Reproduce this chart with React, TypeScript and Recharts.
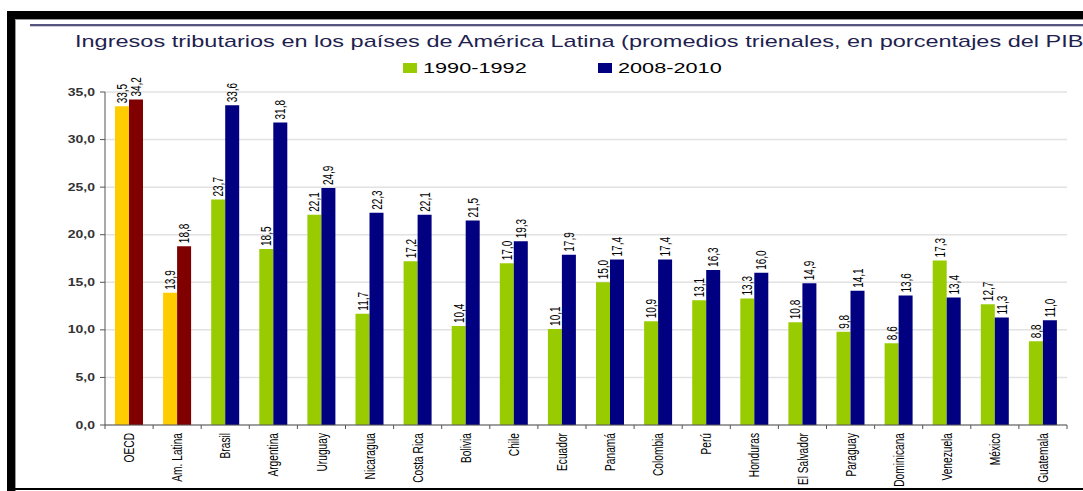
import React from 'react';
import { BarChart, Bar, XAxis, YAxis, CartesianGrid, Cell, LabelList } from 'recharts';

const categories = ['OECD', 'Am. Latina', 'Brasil', 'Argentina', 'Uruguay', 'Nicaragua', 'Costa Rica', 'Bolivia', 'Chile', 'Ecuador', 'Panamá', 'Colombia', 'Perú', 'Honduras', 'El Salvador', 'Paraguay', 'Dominicana', 'Venezuela', 'México', 'Guatemala'];
const values1990 = [33.5, 13.9, 23.7, 18.5, 22.1, 11.7, 17.2, 10.4, 17.0, 10.1, 15.0, 10.9, 13.1, 13.3, 10.8, 9.8, 8.6, 17.3, 12.7, 8.8];
const values2008 = [34.2, 18.8, 33.6, 31.8, 24.9, 22.3, 22.1, 21.5, 19.3, 17.9, 17.4, 17.4, 16.3, 16.0, 14.9, 14.1, 13.6, 13.4, 11.3, 11.0];
const yTicks = [0, 5, 10, 15, 20, 25, 30, 35];
const seriesNames = ['1990-1992', '2008-2010'];
const highlighted = ['OECD', 'Am. Latina'];
const title = 'Ingresos tributarios en los países de América Latina (promedios trienales, en porcentajes del PIB';

const GREEN = '#99CC00';
const NAVY = '#000080';
const YELLOW = '#FFCC00';
const DARKRED = '#800000';
const FONT = '"Liberation Sans", Arial, Helvetica, sans-serif';
const S = 1.4; // horizontal stretch of the reference picture

const W = 1083;
const H = 491;
const PLOT_LEFT = 105;
const PLOT_RIGHT = 1067;
const PLOT_TOP = 92;
const PLOT_BOTTOM = 425;
const X_AXIS_H = 60;

const data = categories.map((c, i) => ({ name: c, a: values1990[i], b: values2008[i] }));

const fmt = (v: any) => Number(v).toFixed(1).replace('.', ',');

const XTick = (props: any) => {
  const { x, y, payload } = props;
  const idx = categories.indexOf(payload.value);
  const bw = (PLOT_RIGHT - PLOT_LEFT) / categories.length;
  const fs = 10.2;
  return (
    <g>
      <line x1={x - bw / 2} x2={x - bw / 2} y1={y} y2={y + 4} stroke="#555" strokeWidth={1} />
      {idx === categories.length - 1 && (
        <line x1={x + bw / 2} x2={x + bw / 2} y1={y} y2={y + 4} stroke="#555" strokeWidth={1} />
      )}
      <text
        transform={`translate(${x + 0.36 * fs * S},${y + 8}) scale(${S},1) rotate(-90)`}
        textAnchor="end"
        fontSize={fs}
        fontFamily={FONT}
        fill="#000"
      >
        {payload.value}
      </text>
    </g>
  );
};

const YTick = (props: any) => {
  const { x, y, payload } = props;
  return (
    <text
      transform={`translate(${x},${y}) scale(${S},1)`}
      textAnchor="end"
      dy="0.36em"
      fontSize={10}
      fontWeight="bold"
      fontFamily={FONT}
      fill="#333"
    >
      {fmt(payload.value)}
    </text>
  );
};

const renderLabel = (props: any) => {
  const { x, y, width, value } = props;
  const fs = 10;
  const cx = Number(x) + Number(width) / 2 + 0.36 * fs * S;
  return (
    <text
      transform={`translate(${cx},${Number(y) - 3}) scale(${S},1) rotate(-90)`}
      textAnchor="start"
      fontSize={fs}
      fontFamily={FONT}
      fill="#000"
    >
      {fmt(value)}
    </text>
  );
};

export default function App() {
  return (
    <div style={{ position: 'absolute', left: 0, top: 0, width: W, height: H, overflow: 'hidden', background: '#fff', fontFamily: FONT }}>
      <svg width={W} height={H} style={{ position: 'absolute', left: 0, top: 0 }}>
        {/* frame */}
        <rect x={7} y={11} width={W - 7} height={8} fill="#000" />
        <rect x={7} y={19} width={W - 7} height={1} fill="#999" />
        <rect x={7} y={11} width={8} height={H - 11} fill="#000" />
        <rect x={15} y={19} width={1} height={H - 19} fill="#999" />
        <rect x={15} y={488} width={W - 15} height={2} fill="#000" />
        <rect x={30} y={24} width={W - 30} height={2} fill="#55557F" />
        <rect x={30} y={26} width={W - 30} height={1} fill="#c8c8d8" />
        {/* title */}
        <text transform={`translate(75,47) scale(${S},1)`} fontSize={16.8} fontFamily={FONT} fill="#1F1F50">
          {title}
        </text>
        {/* legend */}
        <rect x={403} y={63} width={14} height={10} fill={GREEN} />
        <text transform={`translate(423,73) scale(${S},1)`} fontSize={15.5} fontFamily={FONT} fill="#000">
          {seriesNames[0]}
        </text>
        <rect x={598} y={63} width={14} height={10} fill={NAVY} />
        <text transform={`translate(618,73) scale(${S},1)`} fontSize={15.5} fontFamily={FONT} fill="#000">
          {seriesNames[1]}
        </text>
      </svg>
      <div style={{ position: 'absolute', left: 0, top: 0 }}>
        <BarChart
          width={W}
          height={H}
          data={data}
          margin={{ top: PLOT_TOP, right: W - PLOT_RIGHT, bottom: H - PLOT_BOTTOM - X_AXIS_H, left: 0 }}
          barGap={0}
          barSize={14}
        >
          <CartesianGrid vertical={false} stroke="#e2e2e2" strokeWidth={1.5} />
          <XAxis
            dataKey="name"
            interval={0}
            height={X_AXIS_H}
            tickSize={0}
            tickMargin={0}
            tickLine={false}
            axisLine={{ stroke: '#555', strokeWidth: 1 }}
            tick={<XTick />}
          />
          <YAxis
            width={PLOT_LEFT}
            domain={[0, 35]}
            ticks={yTicks}
            allowDataOverflow
            tickSize={5}
            tickMargin={5}
            tickLine={{ stroke: '#555' }}
            axisLine={{ stroke: '#555', strokeWidth: 1 }}
            tick={<YTick />}
          />
          <Bar dataKey="a" name={seriesNames[0]} fill={GREEN} isAnimationActive={false}>
            {data.map((d) => (
              <Cell key={d.name} fill={highlighted.includes(d.name) ? YELLOW : GREEN} />
            ))}
            <LabelList dataKey="a" content={renderLabel} />
          </Bar>
          <Bar dataKey="b" name={seriesNames[1]} fill={NAVY} isAnimationActive={false}>
            {data.map((d) => (
              <Cell key={d.name} fill={highlighted.includes(d.name) ? DARKRED : NAVY} />
            ))}
            <LabelList dataKey="b" content={renderLabel} />
          </Bar>
        </BarChart>
      </div>
    </div>
  );
}
